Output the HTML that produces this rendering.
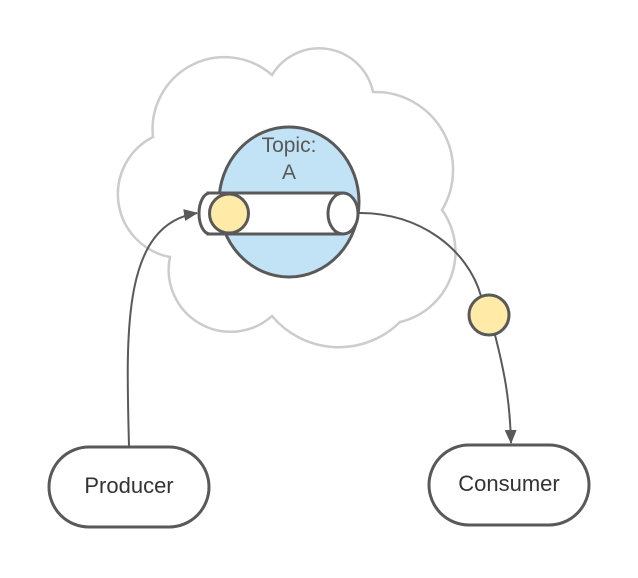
<!DOCTYPE html>
<html><head><style>html,body{margin:0;padding:0;background:#fff}</style></head>
<body>
<svg width="638" height="573" viewBox="0 0 638 573" xmlns="http://www.w3.org/2000/svg">
<defs><marker id="ar" markerWidth="14" markerHeight="12" refX="13" refY="6" orient="auto" markerUnits="userSpaceOnUse"><path d="M0,0 L14,6 L0,12 z" fill="#595959"/></marker></defs>
<path d="M153 137 A72 72 0 0 1 272 75 A55 55 0 0 1 373 92 A78 78 0 0 1 442 210 A72 72 0 0 1 400 322 A87 87 0 0 1 272 316 A62 62 0 0 1 170 257 A64 64 0 0 1 153 137 Z" fill="#fff" stroke="#cccccc" stroke-width="2.5"/>
<ellipse cx="289" cy="202" rx="70" ry="75" fill="#c2e3f5" stroke="#595959" stroke-width="3"/>
<rect x="208" y="193" width="135" height="41" fill="#fff" stroke="#595959" stroke-width="3"/>
<ellipse cx="210" cy="213.5" rx="11" ry="20.5" fill="#fff" stroke="#595959" stroke-width="3"/>
<rect x="210" y="194.5" width="20" height="38" fill="#fff"/>
<ellipse cx="343" cy="213.5" rx="15" ry="20.5" fill="#fff" stroke="#595959" stroke-width="3"/>
<circle cx="229" cy="213.5" r="19.5" fill="#ffeaa7" stroke="#595959" stroke-width="3"/>
<text x="289" y="152" font-family="Liberation Sans, sans-serif" font-size="21" fill="#595959" text-anchor="middle">Topic:</text>
<text x="289" y="179" font-family="Liberation Sans, sans-serif" font-size="21" fill="#595959" text-anchor="middle">A</text>
<path d="M129 446 C126 330 122 225 197 213" fill="none" stroke="#595959" stroke-width="2" marker-end="url(#ar)"/>
<path d="M358 213 C420 212 468 250 481 296" fill="none" stroke="#595959" stroke-width="2"/>
<path d="M495 335 C504 370 510 400 511 443" fill="none" stroke="#595959" stroke-width="2" marker-end="url(#ar)"/>
<circle cx="489" cy="315" r="20" fill="#ffeaa7" stroke="#595959" stroke-width="3"/>
<rect x="49" y="447" width="160" height="80" rx="40" fill="#fff" stroke="#595959" stroke-width="3"/>
<text x="129" y="493" font-family="Liberation Sans, sans-serif" font-size="22" fill="#333" text-anchor="middle">Producer</text>
<rect x="429" y="445" width="160" height="80" rx="40" fill="#fff" stroke="#595959" stroke-width="3"/>
<text x="509" y="491" font-family="Liberation Sans, sans-serif" font-size="22" fill="#333" text-anchor="middle">Consumer</text>
</svg>
</body></html>
